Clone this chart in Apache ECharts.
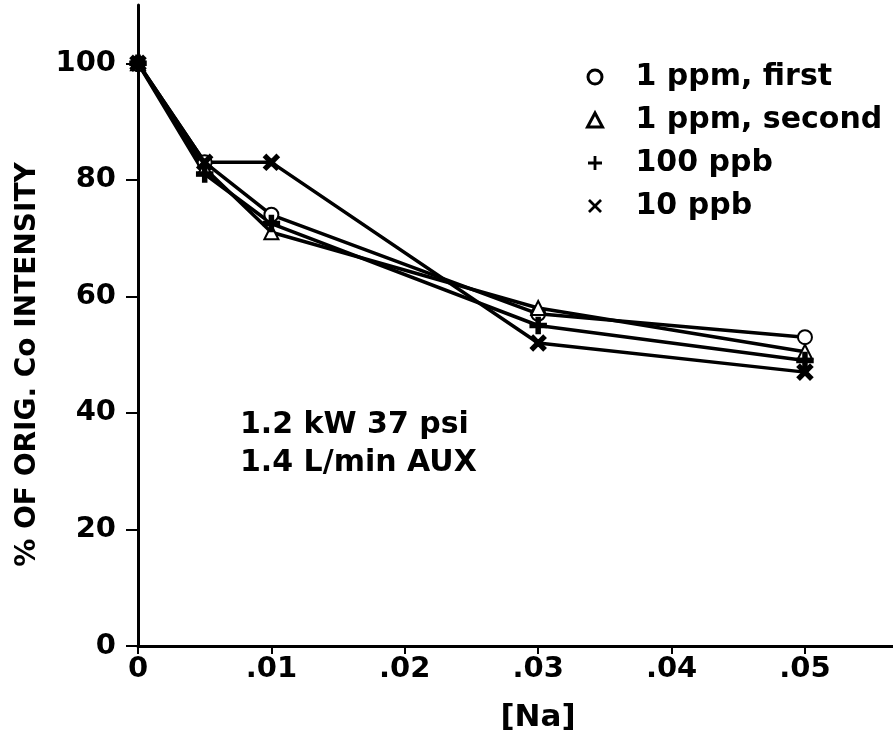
<!DOCTYPE html>
<html><head><meta charset="utf-8">
<script src="https://cdn.jsdelivr.net/npm/echarts@6/dist/echarts.min.js"></script>
<style>html,body{margin:0;padding:0;background:#fff}#c{width:893px;height:738px}</style>
</head><body><div id="c"></div>
<script>
const naConc = [0, 0.005, 0.01, 0.03, 0.05];
const seriesNames = ['1 ppm, first', '1 ppm, second', '100 ppb', '10 ppb'];
const ppm1First = [100, 83, 74, 57, 53];
const ppm1Second = [100, 82, 71, 58, 50.5];
const ppb100 = [100, 81, 72.5, 55, 49];
const ppb10 = [100, 83, 83, 52, 47];
const yTicks = [0, 20, 40, 60, 80, 100];
const xTicks = [0, 0.01, 0.02, 0.03, 0.04, 0.05];
const xTickLabels = ['0', '.01', '.02', '.03', '.04', '.05'];
const noteLines = ['1.2 kW 37 psi', '1.4 L/min AUX'];

const FONT = 'DejaVu Sans';
const plusPath = 'path://M4,0H6V4H10V6H6V10H4V6H0V4H4Z';
const crossPath = 'path://M1.4,0L5,3.6L8.6,0L10,1.4L6.4,5L10,8.6L8.6,10L5,6.4L1.4,10L0,8.6L3.6,5L0,1.4Z';
const symbols = ['emptyCircle', 'emptyTriangle', plusPath, crossPath];
const legendIcons = ['circle', 'triangle', plusPath, crossPath];
const sizes = [14, 14, 15, 14];
const allData = [ppm1First, ppm1Second, ppb100, ppb10];

const chart = echarts.init(document.getElementById('c'));
const series = allData.map((vals, i) => ({
  name: seriesNames[i],
  type: 'line',
  data: vals.map((v, j) => [naConc[j], v]),
  symbol: symbols[i],
  symbolSize: sizes[i],
  showAllSymbol: true,
  lineStyle: { color: '#000', width: 3.5 },
  itemStyle: { color: '#000', borderColor: '#000', borderWidth: 2.5 },
  z: 2
}));

chart.setOption({
  animation: false,
  backgroundColor: '#fff',
  grid: { left: 138, right: 0, top: 5, bottom: 90, containLabel: false },
  xAxis: {
    type: 'value', min: 0, max: 0.0566, interval: 0.01,
    name: '[Na]', nameLocation: 'middle', nameGap: 56,
    nameTextStyle: { fontFamily: FONT, fontWeight: 'bold', fontSize: 31, color: '#000', padding: [0, 0, 0, 45] },
    axisLine: { lineStyle: { color: '#000', width: 3 } },
    axisTick: { show: true, length: 8, customValues: xTicks, lineStyle: { color: '#000', width: 2 } },
    axisLabel: {
      fontFamily: FONT, fontWeight: 'bold', fontSize: 29, color: '#000', margin: 9,
      customValues: xTicks,
      formatter: v => { const k = Math.round(v * 100); return k <= 5 && Math.abs(v * 100 - k) < 1e-6 ? xTickLabels[k] : ''; }
    },
    splitLine: { show: false }
  },
  yAxis: {
    type: 'value', min: 0, max: 110, interval: 20,
    name: '% OF ORIG. Co INTENSITY', nameLocation: 'middle', nameGap: 96, nameRotate: 90,
    nameTextStyle: { fontFamily: FONT, fontWeight: 'bold', fontSize: 28, color: '#000', padding: [0, 78, 0, 0] },
    axisLine: { lineStyle: { color: '#000', width: 3 } },
    axisTick: { show: true, length: 12, customValues: yTicks, lineStyle: { color: '#000', width: 2 } },
    axisLabel: {
      fontFamily: FONT, fontWeight: 'bold', fontSize: 29, color: '#000', margin: 22,
      customValues: yTicks,
      formatter: v => yTicks.indexOf(v) >= 0 ? String(v) : ''
    },
    splitLine: { show: false }
  },
  legend: {
    orient: 'vertical', left: 581, top: 57, itemGap: 13,
    itemWidth: 15, itemHeight: 14,
    textStyle: { fontFamily: FONT, fontWeight: 'bold', fontSize: 30, color: '#000', padding: [0, 0, 0, 28] },
    data: seriesNames.map((n, i) => ({ name: n, icon: legendIcons[i], itemStyle: { color: i < 2 ? '#fff' : '#000', borderColor: '#000', borderWidth: i < 2 ? 3 : 0 } })),
    selectedMode: false
  },
  graphic: noteLines.map((t, i) => ({
    type: 'text', x: 240, y: 425 + i * 38,
    style: { text: t, fontFamily: FONT, fontWeight: 'bold', fontSize: 30, fill: '#000', verticalAlign: 'middle' }
  })),
  series: series
});
</script></body></html>
